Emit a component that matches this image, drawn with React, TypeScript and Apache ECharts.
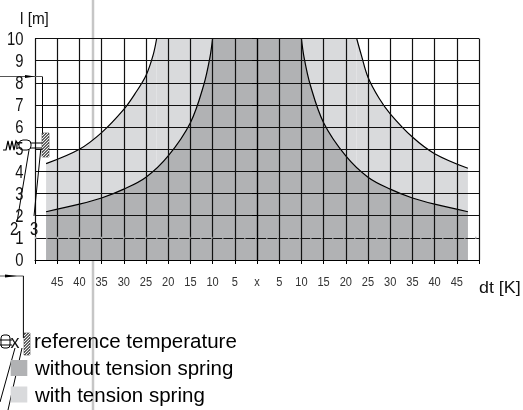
import React, { useEffect, useRef } from "react";
import * as echarts from "echarts";

const xTicks = [-45, -40, -35, -30, -25, -20, -15, -10, -5, 0, 5, 10, 15, 20, 25, 30, 35, 40, 45];
const yTicks = [0, 1, 2, 3, 4, 5, 6, 7, 8, 9, 10];
const outerLeft: [number, number][] = [[-47.5, 4.35], [-40, 5.0], [-35, 5.75], [-30, 6.8], [-27.5, 7.5], [-25, 8.33], [-23.4, 9.25], [-22.6, 10]];
const outerTop: [number, number][] = [[-22.6, 10], [22.45, 10]];
const outerRight: [number, number][] = [[22.45, 10], [23.5, 9.25], [25, 8.25], [27.5, 7.3], [30, 6.6], [35, 5.55], [40, 4.8], [47.5, 4.14]];
const innerLeft: [number, number][] = [[-47.5, 2.18], [-40, 2.52], [-35, 2.8], [-30, 3.2], [-25, 3.74], [-20, 4.7], [-15, 6.2], [-12, 7.9], [-10.6, 9.15], [-10, 10]];
const innerTop: [number, number][] = [[-10, 10], [10, 10]];
const innerRight: [number, number][] = [[10, 10], [10.6, 9.15], [12, 7.9], [15, 6.2], [20, 4.7], [25, 3.74], [30, 3.2], [35, 2.8], [40, 2.52], [47.5, 2.18]];
const dashedLine: [number, number][] = [[-50, 1], [50, 1]];
const legendLabels = ["reference temperature", "without tension spring", "with tension spring"];
const axisNames = { y: "l [m]", x: "dt [K]" };

const SANS = "'Liberation Sans', sans-serif";
const DARK = "#b1b2b4";
const LIGHT = "#d9dadc";

function band(name: string, data: [number, number][], color: string, z: number) {
  return {
    name, type: "line", data, z, showSymbol: false, symbol: "none", smooth: 0.35,
    lineStyle: { color: "#000", width: 1.2 }, areaStyle: { color, opacity: 1 }, clip: true,
  };
}

function ln(x1: number, y1: number, x2: number, y2: number, color = "#000", w = 1, z = 20) {
  return { type: "line", z, silent: true, shape: { x1, y1, x2, y2 }, style: { stroke: color, lineWidth: w } };
}
function txt(x: number, y: number, text: string, fontSize: number, align = "left", scaleX = 1, fill = "#111") {
  return {
    type: "text", z: 23, x, y, scaleX,
    style: { text, fontSize, fontFamily: SANS, fill, align, verticalAlign: "middle" },
  };
}
function hatch(x: number, y: number, w: number, h: number) {
  const els: any[] = [{ type: "rect", z: 20, shape: { x, y, width: w, height: h }, style: { fill: "#666", stroke: "#222", lineWidth: 0.5 } }];
  for (let d = 3; d < h + w; d += 3) {
    const x1 = x + Math.max(0, d - h);
    const y1 = y + Math.min(d, h);
    const x2 = x + Math.min(d, w);
    const y2 = y + Math.max(0, d - w);
    els.push(ln(x1, y1, x2, y2, "#fff", 0.9, 21));
  }
  return els;
}

export default function App() {
  const ref = useRef<HTMLDivElement>(null);
  useEffect(() => {
    const chart = echarts.init(ref.current!, undefined, { renderer: "svg" });
    chart.setOption({
      animation: false,
      grid: { left: 35, right: 44, top: 38.5, bottom: 150, show: false },
      xAxis: {
        type: "value", min: -50, max: 50, interval: 5, z: 5,
        axisLine: { show: true, onZero: false, lineStyle: { color: "#000", width: 1.2 } },
        axisTick: { show: true, length: 4, lineStyle: { color: "#000" } },
        splitLine: { show: true, lineStyle: { color: "#111", width: 1.2 } },
        axisLabel: { show: false },
      },
      yAxis: {
        type: "value", min: 0, max: 10, interval: 1, z: 5,
        axisLine: { show: true, lineStyle: { color: "#000", width: 1.2 } },
        axisTick: { show: true, length: 5, lineStyle: { color: "#000" } },
        splitLine: { show: true, lineStyle: { color: "#111", width: 1.2 } },
        axisLabel: { show: false },
      },
      series: [
        band("with tension spring", outerLeft, LIGHT, 1),
        band("with tension spring top", outerTop, LIGHT, 1),
        band("with tension spring right", outerRight, LIGHT, 1),
        band("without tension spring", innerLeft, DARK, 2),
        band("without tension spring top", innerTop, DARK, 2),
        band("without tension spring right", innerRight, DARK, 2),
        {
          name: "dashed", type: "line", data: dashedLine, symbol: "none", z: 6,
          lineStyle: { color: DARK, width: 2, type: [1.5, 9.5] as any },
        },
      ],
    });
    const xLabels = xTicks.map((v) => {
      const [px] = chart.convertToPixel({ xAxisIndex: 0, yAxisIndex: 0 }, [v, 0]);
      return txt(px, 281.5, v === 0 ? "x" : String(Math.abs(v)), 13, "center", 0.85, "#333");
    });
    const yLabels = yTicks.map((v) => {
      const [, py] = chart.convertToPixel({ xAxisIndex: 0, yAxisIndex: 0 }, [0, v]);
      return txt(23.5, py, String(v), 19, "right", 0.78);
    });
    chart.setOption({
      graphic: [
        ln(93, 0, 93, 410, "#c6c6c6", 2.5, -1),
        ...xLabels,
        ...yLabels,
        txt(20, 18, axisNames.y, 17, "left", 0.9),
        txt(479, 287.5, axisNames.x, 17, "left", 1.05),
        // upper clutter
        ln(0, 76.5, 42, 76.5, "#555", 1),
        { type: "polygon", z: 20, shape: { points: [[25, 75], [35, 76.5], [25, 78]] }, style: { fill: "#000" } },
        ln(42.5, 76.5, 42.5, 134, "#000", 1),
        ...hatch(42, 133, 7, 24),
        ln(40.7, 150, 34, 216, "#000", 1),
        ln(29, 150, 17, 222, "#000", 1),
        ln(28, 143, 42, 143, "#000", 1),
        ln(28, 148, 42, 148, "#000", 1),
        { type: "rect", z: 20, shape: { x: 19, y: 140, width: 12, height: 10, r: 4 }, style: { fill: "#fff", stroke: "#000", lineWidth: 1 } },
        { type: "polyline", z: 20, shape: { points: [[3, 150], [6, 150], [8, 141], [10, 150], [12, 141], [14, 150], [16, 141], [19, 145]] }, style: { fill: "none", stroke: "#000", lineWidth: 1.2 } },
        txt(14, 229, "2", 19, "center", 0.78),
        txt(34, 229, "3", 19, "center", 0.78),
        // lower clutter
        ln(0, 276, 23.5, 276, "#555", 1),
        { type: "polygon", z: 20, shape: { points: [[5, 274.5], [17, 276], [5, 277.5]] }, style: { fill: "#000" } },
        ln(23.4, 276, 23.4, 338, "#000", 1),
        ...hatch(24, 333, 6, 22),
        { type: "rect", z: 20, shape: { x: 1, y: 335, width: 9, height: 13, r: 3 }, style: { fill: "#fff", stroke: "#000", lineWidth: 1 } },
        ln(0, 340, 12, 340, "#000", 1),
        ln(0, 345, 12, 345, "#000", 1),
        ln(0, 402, 15, 348, "#000", 1),
        ln(8, 410, 22, 348, "#000", 1),
        txt(15, 342, "x", 18, "center"),
        // legend
        { type: "rect", z: 22, shape: { x: 10.7, y: 360, width: 16.6, height: 16 }, style: { fill: DARK } },
        { type: "rect", z: 22, shape: { x: 10.7, y: 386.5, width: 16.6, height: 16 }, style: { fill: LIGHT } },
        txt(34, 340.3, legendLabels[0], 20.5, "left", 1, "#000"),
        txt(35, 367.3, legendLabels[1], 20.5, "left", 1, "#000"),
        txt(35, 394.3, legendLabels[2], 20.5, "left", 1, "#000"),
      ],
    });
    return () => chart.dispose();
  }, []);
  return <div ref={ref} style={{ position: "fixed", left: 0, top: 0, width: 523, height: 410 }} />;
}
